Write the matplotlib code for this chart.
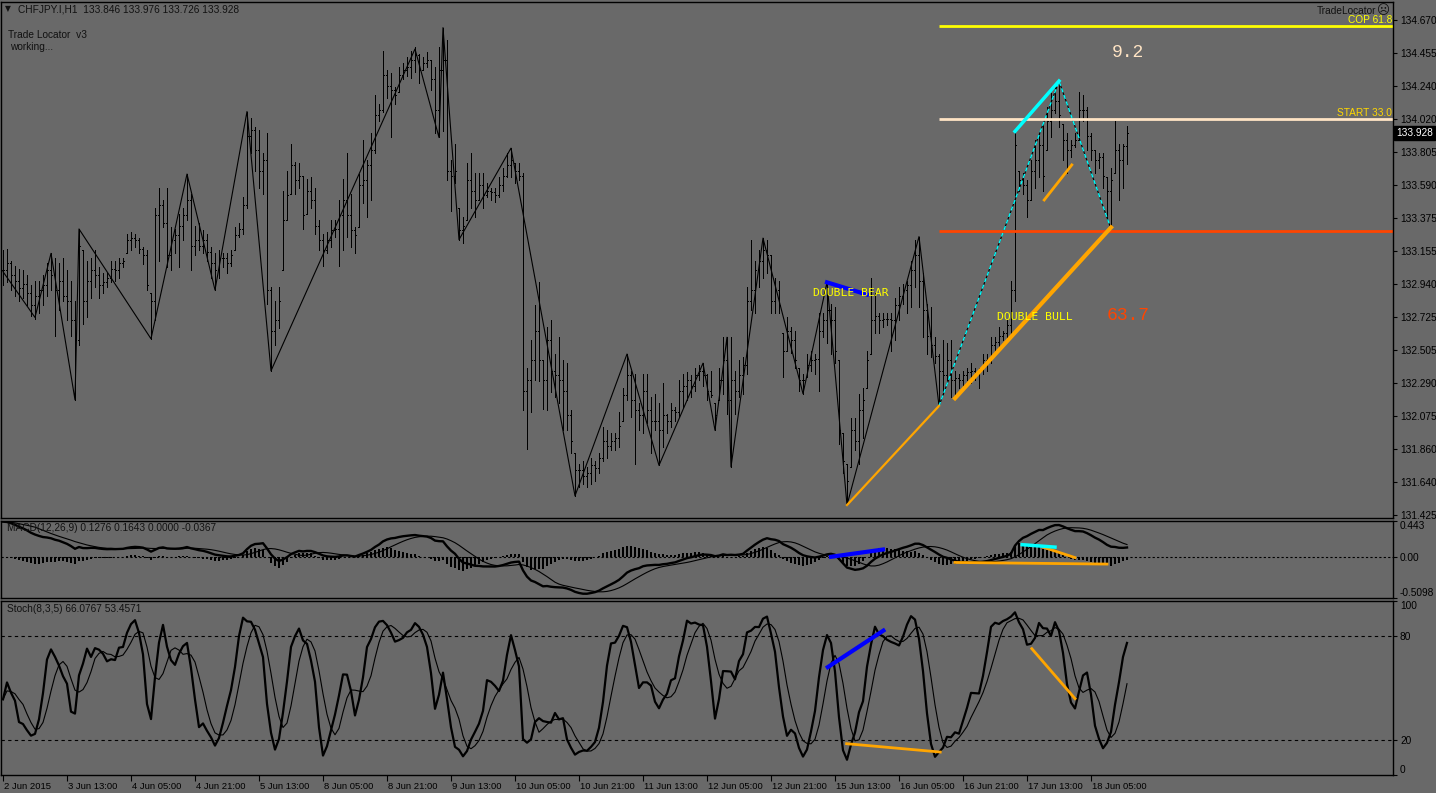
import matplotlib
matplotlib.use("Agg")
import matplotlib.pyplot as plt
from matplotlib.collections import LineCollection
import matplotlib.transforms as mtransforms
import numpy as np
import pandas as pd

# CHFJPY.I H1 bars, 2 Jun 2015 21:00 -> 18 Jun 2015 14:00
highs = [
    133.16, 133.17, 133.09, 133.06, 133.04, 133.03, 133.00, 132.93, 132.96, 132.96,
    133.00, 133.08, 133.14, 133.11, 133.08, 133.11, 133.03, 132.96, 132.83, 133.30,
    133.16, 133.09, 133.11, 133.16, 133.05, 133.01, 133.01, 133.09, 133.09, 133.11,
    133.11, 133.27, 133.28, 133.27, 133.24, 133.18, 133.16, 132.88, 133.44, 133.57,
    133.49, 133.57, 133.31, 133.30, 133.40, 133.44, 133.66, 133.53, 133.32, 133.34,
    133.29, 133.27, 133.18, 133.14, 133.16, 133.14, 133.14, 133.16, 133.31, 133.34,
    133.51, 134.07, 134.03, 133.97, 133.95, 133.80, 133.93, 132.92, 132.83, 132.92,
    133.55, 133.68, 133.86, 133.74, 133.73, 133.65, 133.63, 133.64, 133.57, 133.36,
    133.27, 133.28, 133.36, 133.36, 133.49, 133.63, 133.80, 133.53, 133.31, 133.66,
    133.88, 133.75, 133.93, 134.18, 134.12, 134.47, 134.34, 134.32, 134.23, 134.36,
    134.39, 134.43, 134.47, 134.49, 134.45, 134.43, 134.46, 134.41, 134.36, 134.49,
    134.62, 134.54, 133.75, 133.86, 133.44, 133.38, 133.73, 133.80, 133.67, 133.67,
    133.67, 133.60, 133.57, 133.57, 133.64, 133.70, 133.80, 133.83, 133.73, 133.73,
    133.67, 132.39, 132.57, 132.80, 132.95, 132.44, 132.66, 132.70, 132.48, 132.59,
    132.44, 132.42, 132.11, 131.83, 131.76, 131.78, 131.74, 131.80, 131.78, 131.83,
    132.00, 131.98, 131.96, 131.96, 132.10, 132.26, 132.48, 132.37, 132.35, 132.16,
    132.35, 132.35, 132.20, 132.22, 132.16, 132.29, 132.09, 132.16, 132.13, 132.31,
    132.35, 132.36, 132.34, 132.39, 132.41, 132.42, 132.35, 132.37, 132.16, 132.39,
    132.59, 132.59, 132.59, 132.37, 132.44, 132.46, 132.92, 133.23, 133.09, 133.16,
    133.24, 133.23, 133.13, 132.98, 132.96, 132.62, 132.72, 132.66, 132.63, 132.39,
    132.35, 132.48, 132.50, 132.48, 132.75, 132.75, 132.95, 132.81, 132.79, 132.44,
    131.96, 131.76, 132.06, 132.06, 132.22, 132.26, 132.50, 132.98, 132.88, 132.75,
    132.75, 132.75, 132.75, 132.85, 132.92, 132.94, 132.96, 133.09, 133.23, 133.25,
    133.01, 132.81, 132.79, 132.59, 132.48, 132.57, 132.55, 132.57, 132.37, 132.35,
    132.37, 132.39, 132.42, 132.39, 132.39, 132.48, 132.48, 132.59, 132.59, 132.66,
    132.63, 132.70, 132.96, 133.93, 133.68, 133.67, 133.62, 133.75, 133.88, 133.93,
    133.99, 134.10, 134.19, 134.23, 134.27, 133.99, 133.93, 133.88, 133.93, 134.20,
    134.18, 134.10, 133.93, 133.82, 133.80, 133.80, 133.64, 133.70, 134.01, 133.86,
    133.86, 133.976,
]
lows = [
    132.93, 132.95, 132.90, 132.86, 132.83, 132.85, 132.80, 132.73, 132.71, 132.75,
    132.80, 132.86, 132.90, 132.60, 132.77, 132.83, 132.70, 132.60, 132.18, 132.54,
    132.68, 132.72, 132.85, 132.92, 132.85, 132.88, 132.92, 132.95, 132.96, 132.98,
    133.05, 133.14, 133.16, 133.18, 133.14, 133.07, 132.90, 132.58, 132.70, 133.09,
    133.31, 133.05, 133.03, 133.14, 133.05, 133.23, 133.36, 133.03, 133.13, 133.16,
    133.14, 133.09, 132.98, 132.90, 132.98, 133.05, 133.01, 133.06, 133.16, 133.25,
    133.27, 133.44, 133.80, 133.68, 133.57, 133.53, 132.81, 132.37, 132.54, 132.65,
    133.03, 133.36, 133.53, 133.53, 133.57, 133.30, 133.40, 133.44, 133.27, 133.16,
    133.06, 133.14, 133.18, 133.25, 133.06, 133.16, 133.25, 133.18, 133.14, 133.31,
    133.47, 133.38, 133.49, 133.80, 134.01, 134.07, 134.16, 133.90, 134.12, 134.20,
    134.28, 134.30, 134.29, 134.33, 134.26, 134.34, 134.36, 134.21, 133.93, 133.90,
    133.94, 133.62, 133.42, 133.60, 133.23, 133.21, 133.36, 133.44, 133.38, 133.49,
    133.44, 133.51, 133.49, 133.48, 133.51, 133.55, 133.64, 133.64, 133.60, 133.62,
    132.11, 131.86, 132.10, 132.31, 132.30, 132.12, 132.11, 132.23, 132.20, 132.16,
    131.98, 131.98, 131.83, 131.55, 131.61, 131.63, 131.61, 131.63, 131.65, 131.70,
    131.78, 131.80, 131.85, 131.85, 131.87, 132.04, 132.18, 132.07, 131.76, 131.98,
    131.96, 132.03, 131.83, 131.98, 131.75, 131.87, 131.96, 132.00, 132.04, 132.07,
    132.13, 132.18, 132.20, 132.24, 132.31, 132.27, 132.18, 132.20, 131.98, 132.18,
    132.22, 132.09, 131.74, 132.09, 132.20, 132.22, 132.35, 132.77, 132.75, 132.92,
    132.98, 133.01, 132.75, 132.75, 132.75, 132.33, 132.50, 132.49, 132.39, 132.24,
    132.22, 132.33, 132.37, 132.35, 132.24, 132.59, 132.55, 132.48, 132.42, 131.89,
    131.70, 131.49, 131.74, 131.85, 131.76, 131.93, 132.26, 132.48, 132.62, 132.62,
    132.66, 132.67, 132.50, 132.57, 132.70, 132.81, 132.75, 132.79, 132.92, 132.79,
    132.59, 132.48, 132.46, 132.42, 132.14, 132.22, 132.31, 132.20, 132.22, 132.26,
    132.26, 132.31, 132.29, 132.31, 132.26, 132.35, 132.37, 132.42, 132.50, 132.53,
    132.57, 132.59, 132.59, 132.83, 133.55, 133.53, 133.38, 133.49, 133.57, 133.64,
    133.55, 133.82, 133.90, 134.06, 133.97, 133.75, 133.67, 133.77, 133.84, 133.88,
    134.01, 133.82, 133.75, 133.67, 133.70, 133.57, 133.36, 133.31, 133.67, 133.49,
    133.57, 133.726,
]
closes = [
    133.03, 133.08, 133.00, 132.96, 132.91, 132.94, 132.88, 132.80, 132.86, 132.90,
    132.93, 133.03, 133.00, 132.90, 132.96, 132.86, 132.83, 132.70, 132.57, 133.19,
    132.83, 132.96, 133.03, 133.00, 132.93, 132.95, 132.98, 133.04, 133.03, 133.08,
    133.09, 133.23, 133.24, 133.23, 133.17, 133.13, 132.93, 132.83, 133.39, 133.46,
    133.34, 133.13, 133.23, 133.26, 133.32, 133.39, 133.49, 133.19, 133.23, 133.19,
    133.23, 133.15, 133.08, 133.03, 133.11, 133.11, 133.08, 133.13, 133.26, 133.30,
    133.46, 133.91, 133.95, 133.82, 133.68, 133.75, 132.90, 132.63, 132.70, 132.83,
    133.36, 133.52, 133.72, 133.62, 133.65, 133.39, 133.55, 133.49, 133.32, 133.23,
    133.16, 133.23, 133.29, 133.30, 133.39, 133.49, 133.39, 133.29, 133.26, 133.59,
    133.62, 133.72, 133.82, 134.05, 134.08, 134.31, 134.24, 134.21, 134.18, 134.31,
    134.34, 134.36, 134.41, 134.44, 134.34, 134.39, 134.41, 134.28, 134.08, 134.34,
    134.41, 133.68, 133.65, 133.68, 133.29, 133.32, 133.62, 133.55, 133.49, 133.59,
    133.52, 133.55, 133.54, 133.52, 133.59, 133.65, 133.72, 133.75, 133.68, 133.65,
    132.24, 132.31, 132.44, 132.63, 132.44, 132.31, 132.57, 132.37, 132.34, 132.31,
    132.24, 132.08, 131.91, 131.72, 131.72, 131.68, 131.70, 131.75, 131.73, 131.80,
    131.91, 131.88, 131.91, 131.93, 132.01, 132.21, 132.34, 132.18, 132.11, 132.08,
    132.24, 132.11, 132.04, 132.04, 131.98, 132.08, 132.04, 132.11, 132.10, 132.24,
    132.27, 132.31, 132.27, 132.34, 132.37, 132.34, 132.24, 132.21, 132.08, 132.31,
    132.44, 132.18, 132.31, 132.24, 132.34, 132.41, 132.83, 132.90, 133.03, 133.09,
    133.16, 133.13, 132.83, 132.90, 132.80, 132.50, 132.63, 132.57, 132.44, 132.31,
    132.31, 132.41, 132.44, 132.45, 132.63, 132.70, 132.77, 132.70, 132.50, 131.98,
    131.78, 131.65, 131.98, 131.91, 132.11, 132.18, 132.44, 132.70, 132.73, 132.70,
    132.71, 132.71, 132.70, 132.80, 132.86, 132.90, 132.93, 133.03, 133.13, 132.96,
    132.77, 132.60, 132.54, 132.47, 132.37, 132.34, 132.44, 132.31, 132.32, 132.31,
    132.34, 132.36, 132.37, 132.36, 132.39, 132.44, 132.45, 132.54, 132.56, 132.60,
    132.62, 132.67, 132.90, 133.85, 133.62, 133.59, 133.49, 133.68, 133.75, 133.85,
    133.65, 134.01, 134.08, 134.14, 134.05, 133.88, 133.82, 133.85, 133.88, 134.08,
    134.08, 133.91, 133.82, 133.75, 133.77, 133.65, 133.55, 133.62, 133.82, 133.75,
    133.846, 133.928,
]

time_labels = ["2 Jun 2015", "3 Jun 13:00", "4 Jun 05:00", "4 Jun 21:00", "5 Jun 13:00",
               "8 Jun 05:00", "8 Jun 21:00", "9 Jun 13:00", "10 Jun 05:00", "10 Jun 21:00",
               "11 Jun 13:00", "12 Jun 05:00", "12 Jun 21:00", "15 Jun 13:00", "16 Jun 05:00",
               "16 Jun 21:00", "17 Jun 13:00", "18 Jun 05:00"]
price_ticks = [134.670, 134.455, 134.240, 134.020, 133.805, 133.590, 133.375, 133.155,
               132.940, 132.725, 132.505, 132.290, 132.075, 131.860, 131.640, 131.425]
macd_ticks = [0.443, 0.0, -0.5098]
stoch_ticks = [100, 80, 20, 0]

# zigzag swing points (bar index, price)
zz_idx = [0, 8, 12, 18, 19, 37, 46, 53, 61, 67, 103, 109, 110, 114, 127, 143, 156, 164,
          175, 178, 181, 182, 190, 200, 206, 211, 229, 234, 264, 277]
zz_px = [133.02, 132.72, 133.14, 132.18, 133.30, 132.58, 133.66, 132.90, 134.07, 132.37,
         134.48, 133.90, 134.62, 133.23, 133.83, 131.55, 132.48, 131.75, 132.42, 131.98,
         132.59, 131.74, 133.24, 132.22, 132.95, 131.49, 133.25, 132.14, 134.27, 133.30]

# trade locator levels
cop_level, start_level, stop_level = 134.633, 134.023, 133.289
levels_from = 234

# MACD warm-up: the chart opens with MACD near 0.44
ema12_gap, ema26_gap = 0.35, 0.79

BG = "#696969"
plt.rcParams["font.family"] = ["Liberation Sans", "DejaVu Sans"]

n = len(closes)
idx = np.arange(n)
hi = np.array(highs)
lo = np.array(lows)
cl = np.array(closes)
op = np.clip(np.r_[cl[0], cl[:-1]], lo, hi)

W, H = 1436, 793
fig = plt.figure(figsize=(W / 100, H / 100), dpi=100, facecolor=BG)


def px_axes(x0, y0, x1, y1):
    a = fig.add_axes([x0 / W, 1 - y1 / H, (x1 - x0) / W, (y1 - y0) / H])
    a.set_facecolor(BG)
    for s in a.spines.values():
        s.set_color("black")
        s.set_linewidth(1)
    a.set_xlim(-0.5, 347.5)
    a.yaxis.tick_right()
    a.tick_params(axis="y", direction="out", length=3, width=0.8, colors="black",
                  labelsize=7.3, pad=2)
    a.tick_params(axis="x", bottom=False, labelbottom=False)
    return a


def ftext(x, y, s, **kw):
    fig.text(x / W, 1 - y / H, s, **kw)


ax = px_axes(1, 2, 1393, 518)
axm = px_axes(1, 521, 1393, 598)
axs = px_axes(1, 601, 1393, 775)

# ---- price bars
segs = []
for i in range(n):
    segs.append([(i, lo[i]), (i, hi[i])])
    segs.append([(i - 0.3, op[i]), (i, op[i])])
    segs.append([(i, cl[i]), (i + 0.3, cl[i])])
ax.add_collection(LineCollection(segs, colors="black", linewidths=0.72, antialiased=False))
ax.set_ylim(131.405, 134.788)
ax.set_yticks(price_ticks)
ax.set_yticklabels([f"{p:.3f}" for p in price_ticks])

ax.plot(zz_idx, zz_px, color="black", lw=0.8)
ax.plot(zz_idx[-3:], zz_px[-3:], color="#00FFFF", lw=1, ls=(0, (3, 2)))

# levels
for lvl, col in [(cop_level, "#FFFF00"), (start_level, "#FFE4C4"), (stop_level, "#FF4500")]:
    ax.plot([levels_from, 347.5], [lvl, lvl], color=col, lw=2, solid_capstyle="butt")

# divergence / pattern lines
ax.plot([211, 234], [131.49, 132.14], color="#FFA500", lw=1.6)
ax.plot([238, 277], [132.19, 133.31], color="#FFA500", lw=3)
ax.plot([260.3, 267.2], [133.49, 133.72], color="#FFA500", lw=2)
ax.plot([253, 264], [133.94, 134.27], color="#00FFFF", lw=2.5)
ax.plot([206, 216], [132.95, 132.87], color="#0000FF", lw=3)

ax.text(202.5, 132.88, "DOUBLE BEAR", color="#FFFF00", family="DejaVu Sans Mono",
        fontsize=8.2, va="center", ha="left")
ax.text(248.5, 132.72, "DOUBLE BULL", color="#FFFF00", family="DejaVu Sans Mono",
        fontsize=8.2, va="center", ha="left")
ax.text(277.3, 134.46, "9.2", color="#FFE4C4", family="Liberation Mono", fontsize=13,
        va="center", ha="left")
ax.text(276, 132.73, "63.7", color="#FF4500", family="Liberation Mono", fontsize=13,
        va="center", ha="left")

# current price box
tr = mtransforms.blended_transform_factory(ax.transAxes, ax.transData)
ax.text(1.0025, cl[-1], f"{cl[-1]:.3f}", transform=tr, color="white", fontsize=7.3,
        va="center", ha="left", clip_on=False,
        bbox=dict(boxstyle="square,pad=0.2", fc="black", ec="black"))

# ---- MACD(12,26,9)
k12, k26 = 2 / 13, 2 / 27
e12, e26 = cl[0] - ema12_gap, cl[0] - ema26_gap
macd = []
for c in cl:
    e12 += k12 * (c - e12)
    e26 += k26 * (c - e26)
    macd.append(e12 - e26)
macd = pd.Series(macd)
signal = macd.rolling(9, min_periods=1).mean()
hist = macd - signal
axm.bar(idx, hist, width=0.7, color="black", linewidth=0)
axm.axhline(0, color="black", lw=0.8, ls=(0, (2, 2)))
axm.plot(idx, macd, color="black", lw=1.7)
axm.plot(idx, signal, color="black", lw=0.8)
axm.plot([207, 220], [0.0, 0.09], color="#0000FF", lw=3)
axm.plot([238, 276], [-0.07, -0.09], color="#FFA500", lw=2)
axm.plot([260, 268], [0.12, -0.01], color="#FFA500", lw=2)
axm.plot([254.8, 263], [0.15, 0.12], color="#00FFFF", lw=2.5)
axm.set_ylim(-0.5098, 0.443)
axm.set_yticks(macd_ticks)
axm.set_yticklabels(["0.443", "0.00", "-0.5098"])
lbls = axm.get_yticklabels()
lbls[0].set_va("top")
lbls[-1].set_va("bottom")

# ---- Stochastic(8,3,5)
hs, ls_, cs = pd.Series(hi), pd.Series(lo), pd.Series(cl)
hh = hs.rolling(8, min_periods=1).max()
ll = ls_.rolling(8, min_periods=1).min()
k = 100 * (cs - ll).rolling(3, min_periods=1).sum() / (hh - ll).rolling(3, min_periods=1).sum()
d = k.rolling(5, min_periods=1).mean()
axs.axhline(80, color="black", lw=0.8, ls=(0, (3, 3)))
axs.axhline(20, color="black", lw=0.8, ls=(0, (3, 3)))
axs.plot(idx, d, color="black", lw=0.8)
axs.plot(idx, k, color="black", lw=1.6)
axs.plot([206.2, 220.1], [62, 83], color="#0000FF", lw=3)
axs.plot([210.9, 234.3], [18, 13.2], color="#FFA500", lw=2)
axs.plot([257.2, 268], [72.6, 43.9], color="#FFA500", lw=2)
axs.set_ylim(0, 100)
axs.set_yticks(stoch_ticks)
axs.set_yticklabels([str(t) for t in stoch_ticks])
lbls = axs.get_yticklabels()
lbls[0].set_va("top")
lbls[-1].set_va("bottom")

tick_pos = np.arange(0, n, 16)[:len(time_labels)]
axs.tick_params(axis="x", bottom=True, labelbottom=True, direction="out", length=4,
                width=0.8, colors="black", labelsize=6.8, pad=1)
axs.set_xticks(tick_pos)
axs.set_xticklabels(time_labels)
off = mtransforms.ScaledTranslation(1 / 72, 0, fig.dpi_scale_trans)
for t in axs.get_xticklabels():
    t.set_ha("left")
    t.set_transform(t.get_transform() + off)

# ---- headers
txt = dict(color="#111111", fontsize=7.3, va="center", ha="left")
ftext(5, 9, "\u25bc", color="#111111", fontsize=5.5, va="center", ha="left",
      family="DejaVu Sans")
ftext(18, 9, f"CHFJPY.I,H1  {op[-1]:.3f} {hi[-1]:.3f} {lo[-1]:.3f} {cl[-1]:.3f}", **txt)
ftext(8, 35, "Trade Locator  v3", **txt)
ftext(10, 47, "working...", **txt)
ftext(7, 528, "MACD(12,26,9) 0.1276 0.1643 0.0000 -0.0367", **txt)
ftext(7, 609, "Stoch(8,3,5) 66.0767 53.4571", **txt)
ftext(1376, 11, "TradeLocator", color="#111111", fontsize=7.3, va="center", ha="right")
ftext(1377, 11, "\u2639", color="#111111", fontsize=9, va="center", ha="left",
      family="DejaVu Sans")
ftext(1392, 20, "COP 61.8", color="#FFFF00", fontsize=7.3, va="center", ha="right")
ftext(1392, 113, "START 33.0", color="#FFD700", fontsize=7.3, va="center", ha="right")

fig.savefig("out.png", dpi=100, facecolor=BG)
